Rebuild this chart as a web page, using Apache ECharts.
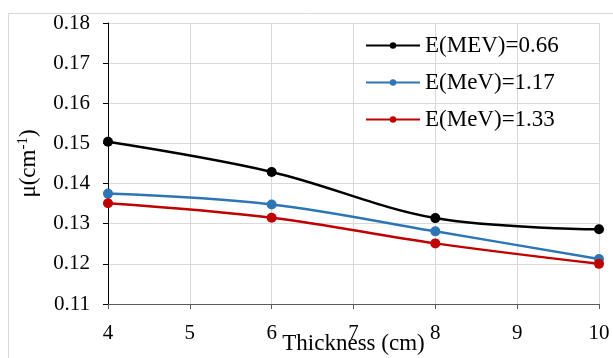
<!DOCTYPE html>
<html><head><meta charset="utf-8">
<script src="https://cdn.jsdelivr.net/npm/echarts@6/dist/echarts.min.js"></script>
<style>html,body{margin:0;padding:0;background:#fff}#c{width:613px;height:358px}</style>
</head><body><div id="c"></div>
<script>
const thickness = [4, 6, 8, 10];
const seriesNames = ['E(MEV)=0.66', 'E(MeV)=1.17', 'E(MeV)=1.33'];
const mu066 = [0.1504, 0.1429, 0.1314, 0.1286];
const mu117 = [0.1375, 0.1348, 0.1281, 0.1212];
const mu133 = [0.1351, 0.1315, 0.1251, 0.1200];
const colors = ['#000000', '#2E75B6', '#C00000'];
const allData = [mu066, mu117, mu133];

const font = 'Liberation Serif';
const chart = echarts.init(document.getElementById('c'));
chart.setOption({
  animation: false,
  textStyle: { fontFamily: font },
  graphic: [{ type: 'rect', shape: { x: 8.5, y: 13.5, width: 610, height: 350 }, style: { fill: 'none', stroke: '#d9d9d9', lineWidth: 1 }, silent: true, z: -10 }],
  grid: { left: 108, right: 14, top: 23, bottom: 54, outerBoundsMode: 'none', containLabel: false },
  legend: {
    orient: 'vertical', left: 360, top: 29, itemGap: 14,
    itemWidth: 54, itemHeight: 8,
    textStyle: { fontFamily: font, fontSize: 23, color: '#000' },
    data: seriesNames
  },
  xAxis: {
    type: 'value', min: 4, max: 10, interval: 1,
    name: 'Thickness (cm)', nameLocation: 'middle', nameGap: 28, nameMoveOverlap: false,
    nameTextStyle: { fontFamily: font, fontSize: 23, color: '#000' },
    axisLine: { lineStyle: { color: '#595959', width: 1 } },
    axisTick: { show: true, length: 5, lineStyle: { color: '#595959' } },
    axisLabel: { fontFamily: font, fontSize: 21, color: '#000', margin: 19 },
    splitLine: { show: true, lineStyle: { color: '#d9d9d9' } }
  },
  yAxis: {
    type: 'value', min: 0.11, max: 0.18, interval: 0.01,
    name: 'μ(cm{sup|-1})', nameLocation: 'middle', nameGap: 67, nameRotate: 90, nameMoveOverlap: false,
    nameTextStyle: { fontFamily: font, fontSize: 23, color: '#000',
      rich: { sup: { fontFamily: font, fontSize: 15, verticalAlign: 'top', padding: [0, 0, 10, 0], color: '#000' } } },
    axisLine: { show: true, lineStyle: { color: '#000', width: 1 } },
    axisTick: { show: true, length: 5, lineStyle: { color: '#000' } },
    axisLabel: { fontFamily: font, fontSize: 21, color: '#000', margin: 18, formatter: v => v.toFixed(2) },
    splitLine: { show: true, lineStyle: { color: '#d9d9d9' } }
  },
  series: seriesNames.map((n, i) => ({
    name: n, type: 'line', smooth: 0.35,
    data: thickness.map((x, j) => [x, allData[i][j]]),
    symbol: 'circle', symbolSize: 10,
    lineStyle: { color: colors[i], width: 2.5 },
    itemStyle: { color: colors[i] }
  }))
});
</script></body></html>
